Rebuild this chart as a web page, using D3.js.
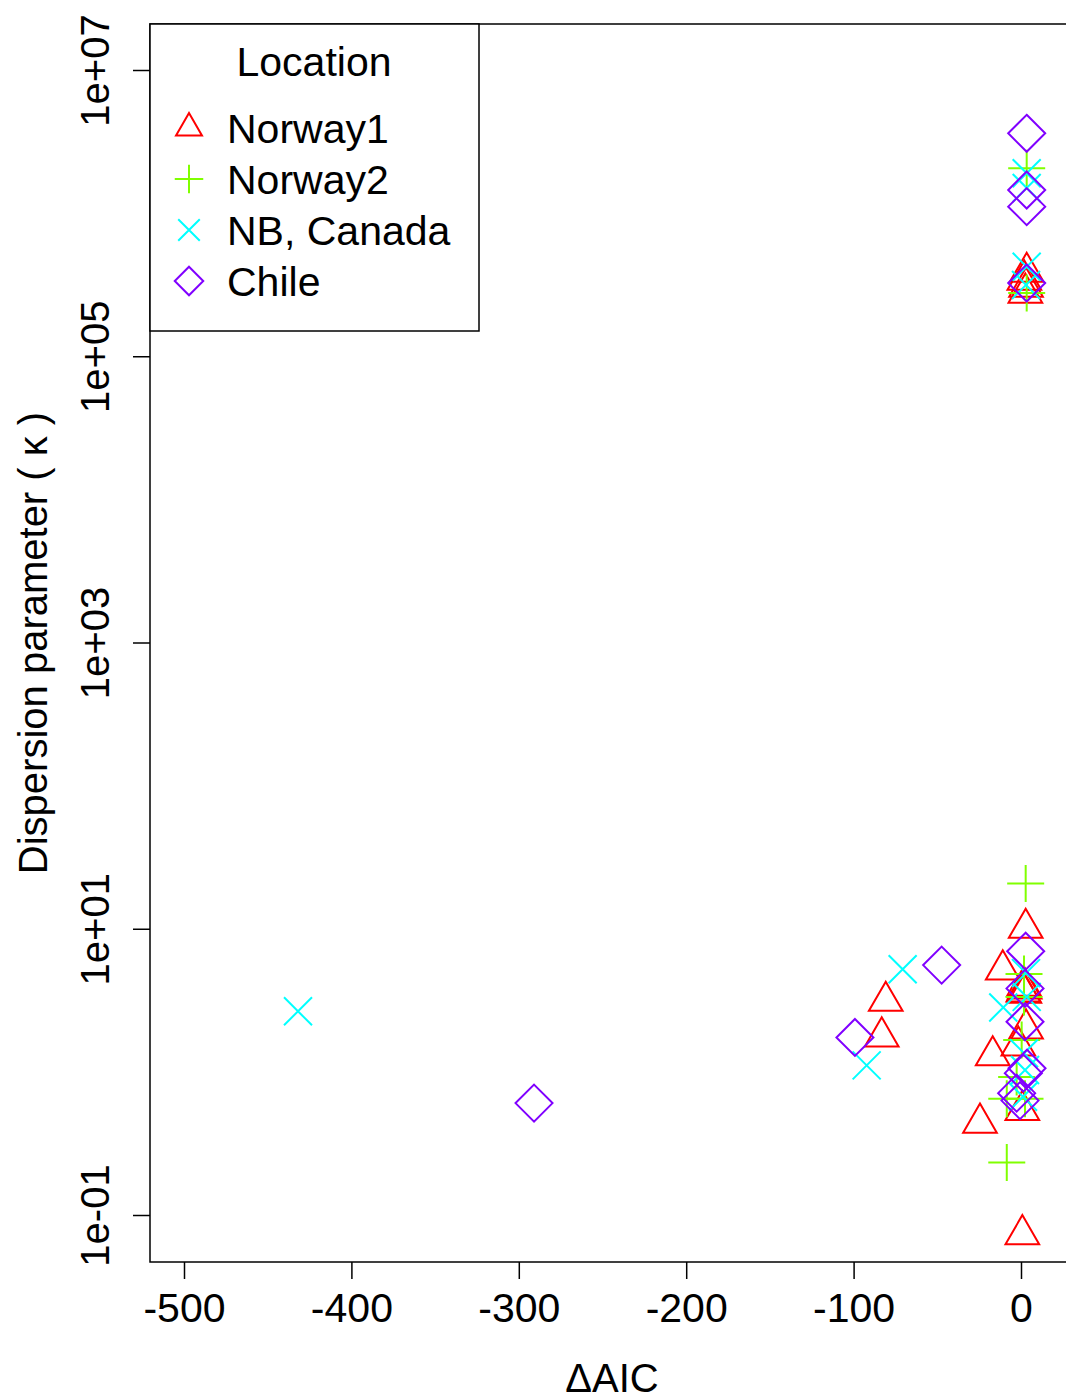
<!DOCTYPE html>
<html>
<head>
<meta charset="utf-8">
<script src="https://cdn.jsdelivr.net/npm/d3@7"></script>
<style>
  html, body { margin: 0; padding: 0; background: #fff; }
  svg { display: block; font-family: "Liberation Sans", Arial, sans-serif; }
</style>
</head>
<body>
<svg id="chart" width="1066" height="1399"></svg>
<script>
// Delta AIC vs. dispersion parameter (kappa) by sampling location
const norway1 = [
  [3.4, 3.87e5], [2.0, 3.41e5], [3.0, 3.05e5], [2.6, 2.77e5],
  [2.8, 10.1], [-10.9, 5.17], [1.8, 3.98], [2.2, 3.80], [1.4, 3.63], [2.0, 3.55],
  [3.0, 2.0], [-1.6, 1.52], [-16.9, 1.30], [-24.5, 0.44], [0.8, 0.54],
  [0.8, 0.073], [-80.8, 3.12], [-83.2, 1.76]
];
const norway2 = [
  [3.4, 2.06e6], [3.4, 2.77e5], [2.8, 20.7], [1.8, 4.82], [1.8, 3.33],
  [0.4, 1.67], [-2.6, 0.92], [-8.5, 0.65], [2.4, 0.65], [-8.5, 0.233]
];
const nbCanada = [
  [3.4, 1.9e6], [3.4, 1.50e6], [3.4, 4.22e5], [3.0, 3.15e5],
  [-431.9, 2.65], [-70.7, 5.21], [-92.2, 1.11], [3.0, 4.9], [-10.6, 2.82],
  [3.4, 3.34], [2.4, 1.03], [1.2, 0.67], [1.8, 1.35]
];
const chile = [
  [3.4, 3.61e6], [3.4, 1.45e6], [3.4, 1.11e6], [3.4, 3.25e5],
  [2.8, 6.97], [-47.4, 5.57], [-99.2, 1.74], [-290.9, 0.605],
  [2.4, 3.83], [2.4, 2.24], [1.4, 0.98], [-2.6, 0.71], [-0.6, 0.63], [3.6, 1.06]
];

const seriesNames = ["Norway1", "Norway2", "NB, Canada", "Chile"];
const seriesColors = ["#FF0000", "#80FF00", "#00FFFF", "#8000FF"];
const seriesShapes = ["triangle", "plus", "cross", "diamond"];

const xTicks = [-500, -400, -300, -200, -100, 0];
const yTicks = [1e-1, 1e1, 1e3, 1e5, 1e7];
const yTickLabels = ["1e-01", "1e+01", "1e+03", "1e+05", "1e+07"];

const svg = d3.select("#chart");

// plot frame (right edge falls just outside the page)
const frame = { left: 150, top: 24, right: 1074, bottom: 1262 };

const x = d3.scaleLinear().domain([-500, 0]).range([184, 1021]);
const y = d3.scaleLog().domain([1e-1, 1e7]).range([1215, 70]);

// marker path generators (pch 2, 3, 4, 5 style)
function shapePath(shape, k) {
  const p = d3.path();
  if (shape === "triangle") {
    const s = 12.5 * k;
    const r = 1.5551 * s, xc = 1.3468 * s, yc = 0.7776 * s;
    p.moveTo(0, -r); p.lineTo(xc, yc); p.lineTo(-xc, yc); p.closePath();
  } else if (shape === "plus") {
    const h = 18.5 * k;
    p.moveTo(-h, 0); p.lineTo(h, 0); p.moveTo(0, -h); p.lineTo(0, h);
  } else if (shape === "cross") {
    const h = 14 * k;
    p.moveTo(-h, -h); p.lineTo(h, h); p.moveTo(-h, h); p.lineTo(h, -h);
  } else {
    const h = 18.5 * k;
    p.moveTo(0, -h); p.lineTo(h, 0); p.lineTo(0, h); p.lineTo(-h, 0); p.closePath();
  }
  return p.toString();
}

svg.append("defs").append("clipPath").attr("id", "plotClip")
  .append("rect")
  .attr("x", frame.left).attr("y", frame.top)
  .attr("width", frame.right - frame.left).attr("height", frame.bottom - frame.top);

const pts = svg.append("g").attr("clip-path", "url(#plotClip)");
[norway1, norway2, nbCanada, chile].forEach((data, i) => {
  pts.append("g")
    .selectAll("path")
    .data(data)
    .join("path")
    .attr("transform", d => `translate(${x(d[0])},${y(d[1])})`)
    .attr("d", shapePath(seriesShapes[i], 1))
    .attr("fill", "none")
    .attr("stroke", seriesColors[i])
    .attr("stroke-width", 2);
});

// x axis
const gx = svg.append("g")
  .attr("transform", `translate(0,${frame.bottom})`)
  .call(d3.axisBottom(x).tickValues(xTicks).tickSize(17).tickFormat(d => String(d)));
gx.select(".domain").remove();
gx.selectAll(".tick line").attr("stroke", "#000").attr("stroke-width", 1.5);
gx.selectAll(".tick text")
  .attr("y", 60).attr("dy", 0)
  .attr("font-size", 41).attr("fill", "#000")
  .style("font-family", "'Liberation Sans', Arial, sans-serif");

// y axis
const gy = svg.append("g")
  .attr("transform", `translate(${frame.left},0)`)
  .call(d3.axisLeft(y).tickValues(yTicks).tickSize(17)
    .tickFormat((d, i) => yTickLabels[i]));
gy.select(".domain").remove();
gy.selectAll(".tick line").attr("stroke", "#000").attr("stroke-width", 1.5);
gy.selectAll(".tick text")
  .attr("transform", "rotate(-90)")
  .attr("x", 0).attr("y", -41.5).attr("dy", 0)
  .attr("text-anchor", "middle")
  .attr("font-size", 40).attr("fill", "#000")
  .style("font-family", "'Liberation Sans', Arial, sans-serif");

// frame
svg.append("rect")
  .attr("x", frame.left).attr("y", frame.top)
  .attr("width", frame.right - frame.left).attr("height", frame.bottom - frame.top)
  .attr("fill", "none").attr("stroke", "#000").attr("stroke-width", 1.5);

// axis titles
svg.append("text")
  .attr("x", (frame.left + frame.right) / 2).attr("y", 1392)
  .attr("text-anchor", "middle").attr("font-size", 40).attr("fill", "#000")
  .text("ΔAIC");

svg.append("text")
  .attr("transform", `translate(47,${(frame.top + frame.bottom) / 2}) rotate(-90)`)
  .attr("text-anchor", "middle").attr("font-size", 40).attr("fill", "#000")
  .text("Dispersion parameter ( κ )");

// legend
const legend = svg.append("g");
legend.append("rect")
  .attr("x", frame.left).attr("y", frame.top)
  .attr("width", 329).attr("height", 307)
  .attr("fill", "#fff").attr("stroke", "#000").attr("stroke-width", 1.5);
legend.append("text")
  .attr("x", 314).attr("y", 76)
  .attr("text-anchor", "middle").attr("font-size", 41).attr("fill", "#000")
  .text("Location");
const rowY = [128, 179, 230, 281];
seriesNames.forEach((name, i) => {
  legend.append("path")
    .attr("transform", `translate(189,${rowY[i]})`)
    .attr("d", shapePath(seriesShapes[i], 0.77))
    .attr("fill", "none").attr("stroke", seriesColors[i]).attr("stroke-width", 2);
  legend.append("text")
    .attr("x", 227).attr("y", rowY[i] + 15)
    .attr("font-size", 41).attr("fill", "#000")
    .text(name);
});
</script>
</body>
</html>
